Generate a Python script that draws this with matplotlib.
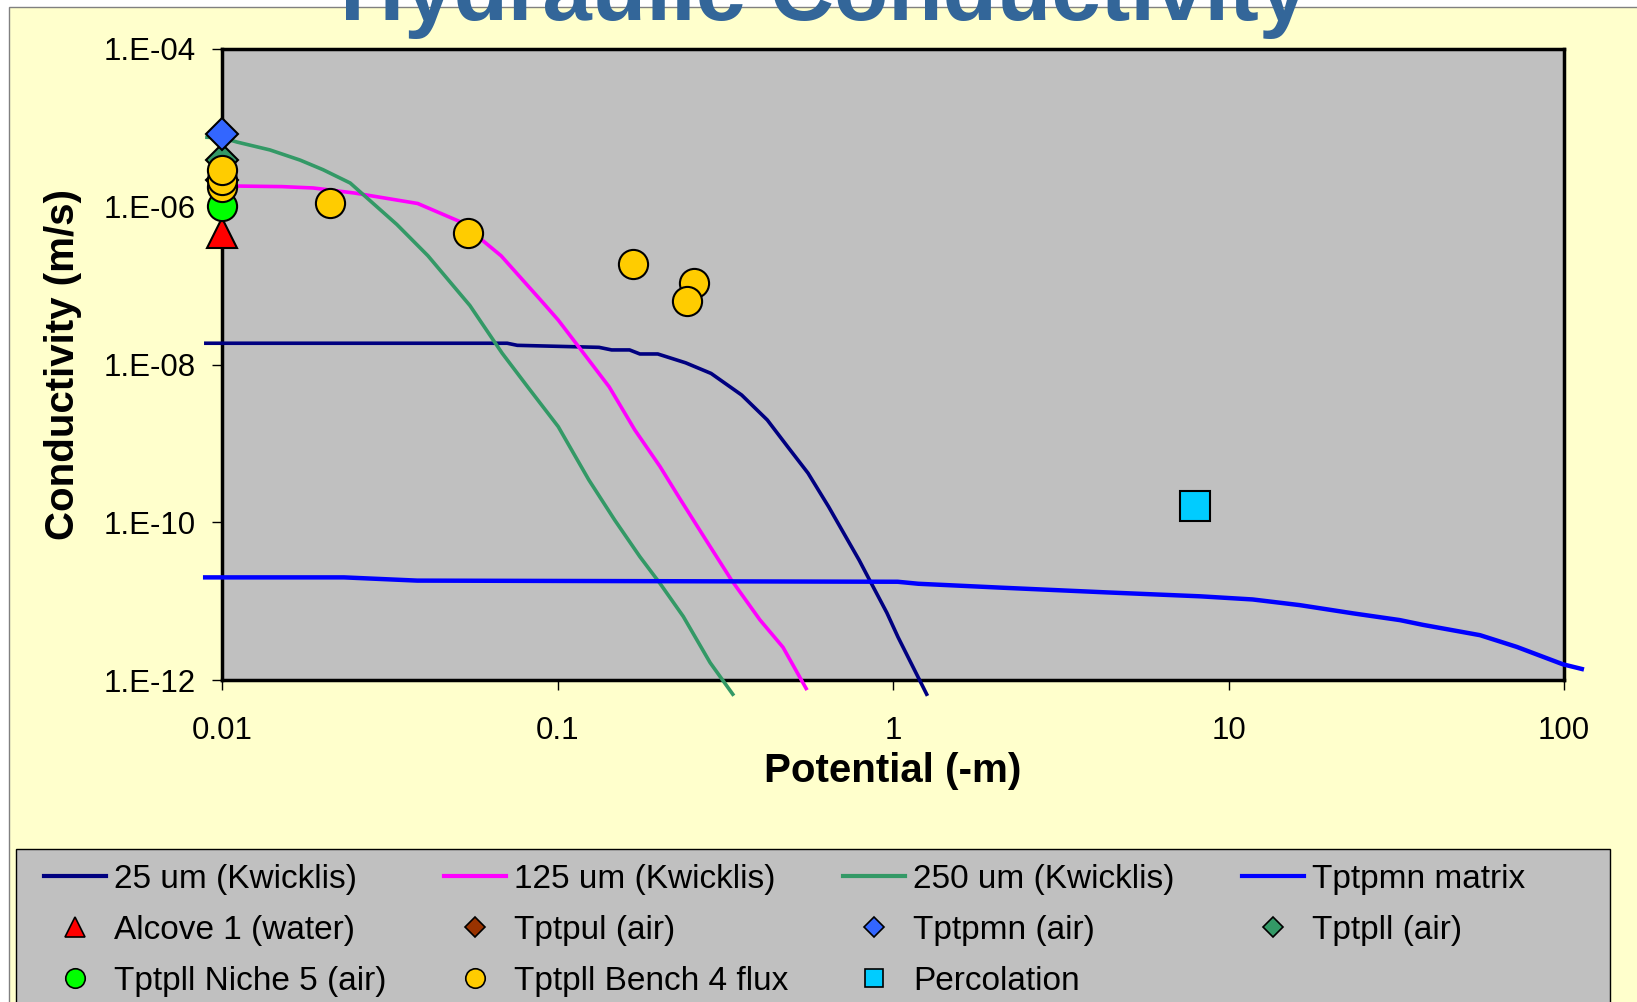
import matplotlib
matplotlib.use("Agg")
import matplotlib.pyplot as plt
from matplotlib.lines import Line2D
from matplotlib.patches import Rectangle
from matplotlib.ticker import NullLocator

plt.rcParams['font.family'] = ['Liberation Sans', 'DejaVu Sans']

# ---------------- data ----------------
x_25 = [0.00895, 0.0708, 0.0759, 0.133, 0.145, 0.164, 0.176, 0.199, 0.241, 0.287,
        0.354, 0.422, 0.485, 0.558, 0.643, 0.714, 0.793, 0.851, 0.959, 1.035, 1.26]
k_25 = [1.86e-8, 1.86e-8, 1.75e-8, 1.65e-8, 1.53e-8, 1.53e-8, 1.36e-8, 1.36e-8, 1.05e-8, 7.7e-9,
        4.1e-9, 1.98e-9, 9.1e-10, 4.2e-10, 1.57e-10, 7.2e-11, 3.3e-11, 1.86e-11, 7.1e-12, 3.5e-12, 6.6e-13]

x_125 = [0.01, 0.0151, 0.0187, 0.0249, 0.0383, 0.0511, 0.0679, 0.0906, 0.1005, 0.1156,
         0.1426, 0.170, 0.202, 0.233, 0.277, 0.330, 0.401, 0.470, 0.551]
k_125 = [1.84e-6, 1.80e-6, 1.73e-6, 1.49e-6, 1.10e-6, 6.5e-7, 2.39e-7, 6.05e-8, 3.66e-8, 1.68e-8,
         5.2e-9, 1.48e-9, 5.1e-10, 1.91e-10, 5.96e-11, 1.85e-11, 5.8e-12, 2.6e-12, 7.8e-13]

x_250 = [0.00902, 0.01, 0.0111, 0.0139, 0.0171, 0.0200, 0.0241, 0.0332, 0.0411, 0.0548,
         0.0684, 0.0815, 0.1005, 0.124, 0.148, 0.176, 0.202, 0.237, 0.285, 0.333]
k_250 = [7.6e-6, 7.5e-6, 6.6e-6, 5.25e-6, 3.9e-6, 2.95e-6, 2.0e-6, 5.96e-7, 2.39e-7, 5.6e-8,
         1.39e-8, 5.2e-9, 1.63e-9, 3.44e-10, 1.07e-10, 3.66e-11, 1.68e-11, 6.4e-12, 1.66e-12, 6.6e-13]

x_matrix = [0.00891, 0.0231, 0.0382, 1.033, 1.19, 2.11, 4.34, 8.26, 11.8, 16.3,
            23.5, 32.4, 38.0, 56.2, 72.3, 99.3, 113]
k_matrix = [2.0e-11, 2.0e-11, 1.82e-11, 1.76e-11, 1.66e-11, 1.48e-11, 1.29e-11, 1.15e-11, 1.05e-11, 8.9e-12,
            7.0e-12, 5.75e-12, 5.0e-12, 3.7e-12, 2.63e-12, 1.58e-12, 1.38e-12]

x_alcove, k_alcove = [0.01], [4.6e-7]
x_tptpul, k_tptpul = [0.01], [2.2e-6]
x_tptpmn, k_tptpmn = [0.01], [8.3e-6]
x_tptpll, k_tptpll = [0.01], [3.9e-6]
x_niche5, k_niche5 = [0.01], [1.02e-6]
x_bench4 = [0.01, 0.01, 0.01, 0.021, 0.054, 0.168, 0.255, 0.243]
k_bench4 = [1.76e-6, 2.2e-6, 2.9e-6, 1.12e-6, 4.7e-7, 1.88e-7, 1.08e-7, 6.4e-8]
x_perc, k_perc = [7.94], [1.6e-10]

x_ticks = [0.01, 0.1, 1, 10, 100]
x_ticklabels = ['0.01', '0.1', '1', '10', '100']
y_ticks = [1e-4, 1e-6, 1e-8, 1e-10, 1e-12]
y_ticklabels = ['1.E-04', '1.E-06', '1.E-08', '1.E-10', '1.E-12']

labels_lines = ['25 um (Kwicklis)', '125 um (Kwicklis)', '250 um (Kwicklis)', 'Tptpmn matrix']
labels_pts = ['Alcove 1 (water)', 'Tptpul (air)', 'Tptpmn (air)', 'Tptpll (air)',
              'Tptpll Niche 5 (air)', 'Tptpll Bench 4 flux', 'Percolation']

# ---------------- figure ----------------
W, H = 1637, 1002
fig = plt.figure(figsize=(W / 100, H / 100), dpi=100)
fig.patch.set_facecolor('white')

def fx(px):
    return px / W

def fy(py):
    return 1 - py / H

# chart area background
fig.patches.append(Rectangle((fx(9), -0.05), 1.1, fy(7) + 0.05, transform=fig.transFigure,
                             facecolor='#FFFFCC', edgecolor='#808080', lw=1.0, zorder=0))
# legend box
fig.patches.append(Rectangle((fx(16), -0.05), fx(1610) - fx(16), fy(849) + 0.05,
                             transform=fig.transFigure, facecolor='#C0C0C0',
                             edgecolor='black', lw=1.0, zorder=1))

ax = fig.add_axes([fx(222), fy(680), fx(1564) - fx(222), (680 - 49) / H])
ax.set_zorder(5)
ax.set_facecolor('#C0C0C0')
ax.set_xscale('log')
ax.set_yscale('log')
ax.set_xlim(0.01, 100)
ax.set_ylim(1e-12, 1e-4)

lw = 2.6
ax.plot(x_25, k_25, color='#000080', lw=lw, clip_on=False, zorder=3)
ax.plot(x_125, k_125, color='#FF00FF', lw=lw, clip_on=False, zorder=3)
ax.plot(x_250, k_250, color='#339966', lw=lw, clip_on=False, zorder=3)
ax.plot(x_matrix, k_matrix, color='#0000FF', lw=3.2, clip_on=False, zorder=3)

mew = 1.5
ax.plot(x_alcove, k_alcove, ls='none', marker='^', ms=21, mfc='#FF0000', mec='black', mew=mew, clip_on=False, zorder=5)
ax.plot(x_tptpul, k_tptpul, ls='none', marker='D', ms=16, mfc='#993300', mec='black', mew=mew, clip_on=False, zorder=4)
ax.plot(x_tptpll, k_tptpll, ls='none', marker='D', ms=16, mfc='#339966', mec='black', mew=mew, clip_on=False, zorder=5)
ax.plot(x_tptpmn, k_tptpmn, ls='none', marker='D', ms=16, mfc='#3366FF', mec='black', mew=mew, clip_on=False, zorder=6)
ax.plot(x_niche5, k_niche5, ls='none', marker='o', ms=21, mfc='#00FF00', mec='black', mew=mew, clip_on=False, zorder=6)
ax.plot(x_bench4, k_bench4, ls='none', marker='o', ms=21, mfc='#FFCC00', mec='black', mew=mew, clip_on=False, zorder=7)
ax.plot(x_perc, k_perc, ls='none', marker='s', ms=21, mfc='#00CCFF', mec='black', mew=mew, clip_on=False, zorder=7)

ax.set_xticks(x_ticks)
ax.set_xticklabels(x_ticklabels)
ax.set_yticks(y_ticks)
ax.set_yticklabels(y_ticklabels)
ax.xaxis.set_minor_locator(NullLocator())
ax.yaxis.set_minor_locator(NullLocator())
ax.tick_params(axis='both', direction='out', length=7, width=1, colors='black', labelsize=22.5)
ax.tick_params(axis='x', pad=19)
ax.tick_params(axis='y', pad=12)
for s in ax.spines.values():
    s.set_linewidth(2.5)
    s.set_color('black')

fig.text(fx(893), fy(771), 'Potential (-m)', ha='center', va='center', fontsize=29, fontweight='bold')
fig.text(fx(63), fy(364), 'Conductivity (m/s)', ha='center', va='center', rotation=90,
         fontsize=29, fontweight='bold')
fig.text(fx(824), fy(20), 'Hydraulic Conductivity', ha='center', va='baseline', fontsize=64,
         fontweight='bold', color='#336699', zorder=20)

# ---------------- legend ----------------
h_lines = [Line2D([], [], color=c, lw=w) for c, w in
           zip(['#000080', '#FF00FF', '#339966', '#0000FF'], [3, 3, 3, 3])]
pt_styles = [('^', 14, '#FF0000'), ('D', 10, '#993300'), ('D', 10, '#3366FF'), ('D', 10, '#339966'),
             ('o', 14, '#00FF00'), ('o', 14, '#FFCC00'), ('s', 13, '#00CCFF')]
h_pts = [Line2D([], [], ls='none', marker=m, ms=s, mfc=c, mec='black', mew=1.2) for m, s, c in pt_styles]

columns = [
    ([h_lines[0], h_pts[0], h_pts[4]], [labels_lines[0], labels_pts[0], labels_pts[4]]),
    ([h_lines[1], h_pts[1], h_pts[5]], [labels_lines[1], labels_pts[1], labels_pts[5]]),
    ([h_lines[2], h_pts[2], h_pts[6]], [labels_lines[2], labels_pts[2], labels_pts[6]]),
    ([h_lines[3], h_pts[3]], [labels_lines[3], labels_pts[3]]),
]
col_x = [44, 444, 843, 1242]
for (hs, ls_), x0 in zip(columns, col_x):
    leg = fig.legend(hs, ls_, loc='upper left', bbox_to_anchor=(fx(x0), fy(864)),
                     bbox_transform=fig.transFigure, frameon=False, fontsize=24,
                     handlelength=1.85, handletextpad=0.25, borderpad=0, borderaxespad=0,
                     labelspacing=0.6)
    leg.set_zorder(10)

fig.savefig('out.png', dpi=100, facecolor=fig.get_facecolor())
